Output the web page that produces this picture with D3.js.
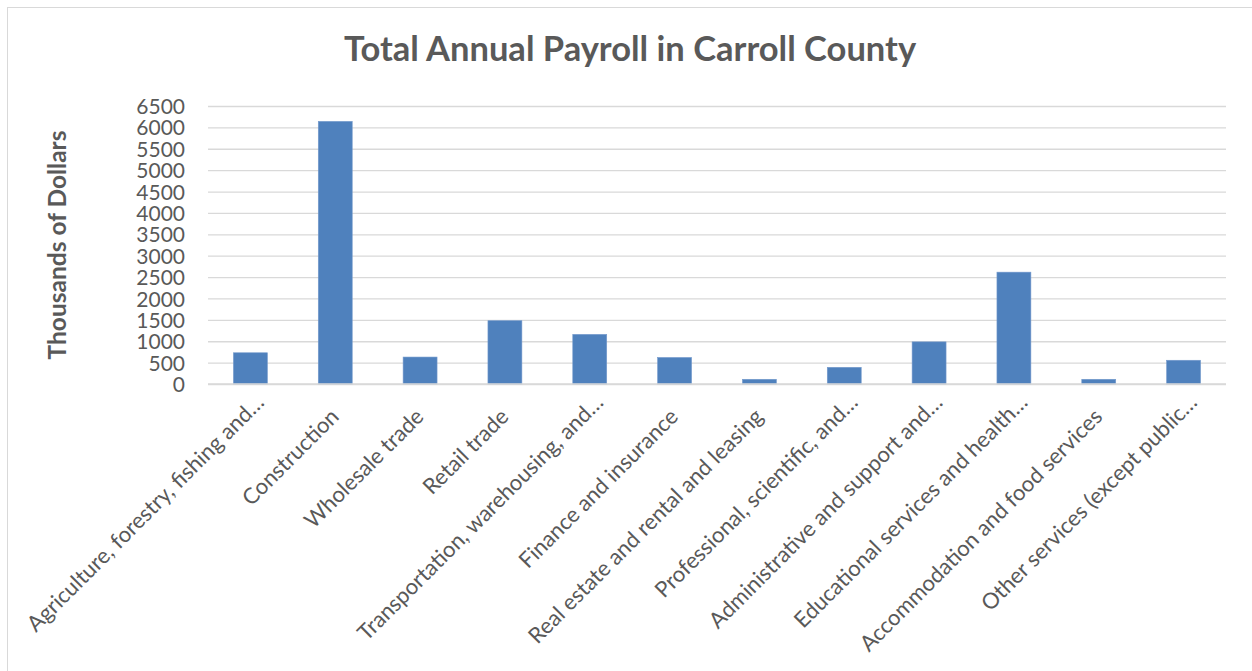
<!DOCTYPE html>
<html>
<head>
<meta charset="utf-8">
<script src="https://cdn.jsdelivr.net/npm/d3@7"></script>
<style>
  html, body { margin: 0; padding: 0; background: #ffffff; }
  svg { display: block; }
  text { font-family: Lato, "Open Sans", sans-serif; fill: #595959; }
</style>
</head>
<body>
<svg id="chart" width="1252" height="671"></svg>
<script>
// Industry categories (labels shown as Excel truncates them)
const categories = [
  "Agriculture, forestry, fishing and…",
  "Construction",
  "Wholesale trade",
  "Retail trade",
  "Transportation, warehousing, and…",
  "Finance and insurance",
  "Real estate and rental and leasing",
  "Professional, scientific, and…",
  "Administrative and support and…",
  "Educational services and health…",
  "Accommodation and food services",
  "Other services (except public…"
];
// Labels that end in an ellipsis sit in a longer, fixed-width box
const truncated = [true, false, false, false, true, false, false, true, true, true, false, true];
// Total annual payroll, thousands of dollars
const payroll = [730, 6140, 630, 1480, 1160, 620, 110, 390, 985, 2615, 110, 555];
// Value-axis ticks
const yTicks = [0, 500, 1000, 1500, 2000, 2500, 3000, 3500, 4000, 4500, 5000, 5500, 6000, 6500];

const titleText = "Total Annual Payroll in Carroll County";
const yTitleText = "Thousands of Dollars";

const svg = d3.select("#chart");

// chart-area frame
svg.append("rect")
  .attr("x", 7.5).attr("y", 7.5)
  .attr("width", 1260).attr("height", 700)
  .attr("fill", "#ffffff")
  .attr("stroke", "#d9d9d9")
  .attr("stroke-width", 1);

const plot = { left: 208, right: 1226, top: 106, bottom: 384 };

const x = d3.scaleBand()
  .domain(categories)
  .range([plot.left, plot.right])
  .paddingInner(0.6)
  .paddingOuter(0.3);

const y = d3.scaleLinear()
  .domain([0, 6500])
  .range([plot.bottom, plot.top]);

// gridlines + value labels via a left axis
const yAxis = d3.axisLeft(y)
  .tickValues(yTicks)
  .tickSize(-(plot.right - plot.left))
  .tickPadding(23)
  .tickFormat(d3.format("d"));

const gy = svg.append("g")
  .attr("transform", `translate(${plot.left},0)`)
  .call(yAxis);
gy.select(".domain").remove();
gy.selectAll(".tick line")
  .attr("stroke", "#d9d9d9")
  .attr("stroke-width", 1.3);
gy.selectAll(".tick text")
  .attr("font-size", 21)
  .attr("font-family", "Lato, 'Open Sans', sans-serif")
  .attr("fill", "#595959")
  .attr("dy", "0.36em");

// bars
svg.append("g")
  .selectAll("rect")
  .data(categories)
  .join("rect")
  .attr("x", d => x(d))
  .attr("width", x.bandwidth())
  .attr("y", (d, i) => y(payroll[i]))
  .attr("height", (d, i) => y(0) - y(payroll[i]))
  .attr("fill", "#4f81bd")
  .attr("stroke", "#7399cc")
  .attr("stroke-width", 0.6);

// category axis line
svg.append("line")
  .attr("x1", plot.left).attr("x2", plot.right)
  .attr("y1", y(0)).attr("y2", y(0))
  .attr("stroke", "#d9d9d9")
  .attr("stroke-width", 1.3);

// rotated category labels
svg.append("g")
  .selectAll("text")
  .data(categories)
  .join("text")
  .attr("transform", d => `translate(${x(d) + x.bandwidth() / 2 + 5},${plot.bottom + 34}) rotate(-45)`)
  .attr("x", (d, i) => truncated[i] ? 17 : 0)
  .attr("y", (d, i) => truncated[i] ? -3 : 0)
  .attr("text-anchor", "end")
  .attr("font-size", 22)
  .text(d => d);

// chart title
svg.append("text")
  .attr("x", 630)
  .attr("y", 61)
  .attr("text-anchor", "middle")
  .attr("font-size", 34.5)
  .attr("font-weight", "bold")
  .text(titleText);

// value-axis title
svg.append("text")
  .attr("transform", "translate(66,245) rotate(-90)")
  .attr("text-anchor", "middle")
  .attr("font-size", 24.5)
  .attr("font-weight", "bold")
  .text(yTitleText);
</script>
</body>
</html>
